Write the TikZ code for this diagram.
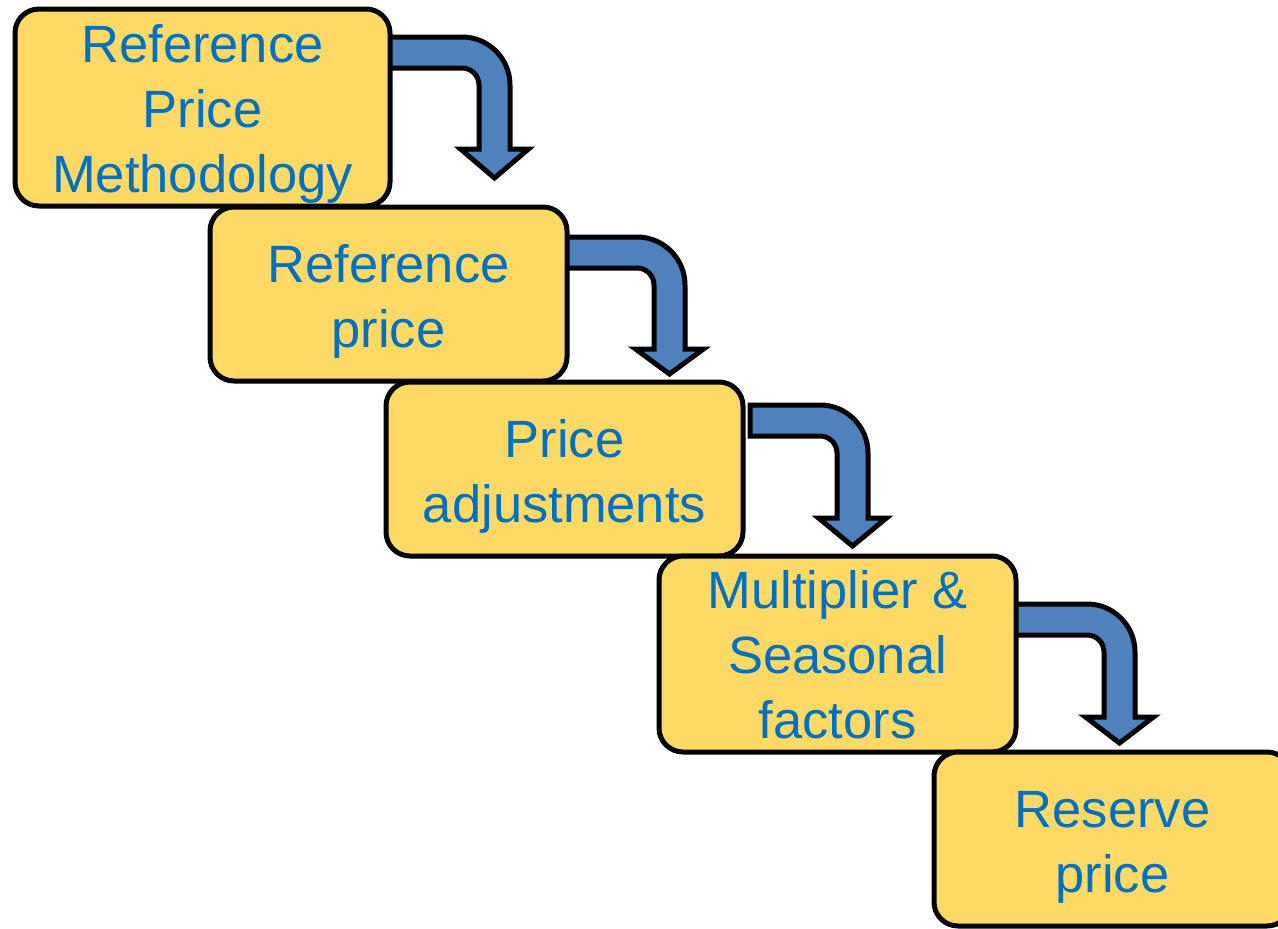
\documentclass[tikz,border=0pt]{standalone}
\usepackage{fontspec}
\setmainfont{Liberation Sans}
\definecolor{boxfill}{RGB}{255,217,102}
\definecolor{arrowblue}{RGB}{79,129,189}
\definecolor{textblue}{RGB}{0,112,192}
\newcommand\bentarrow[6]{%
  % #1 name, #2 x0, #3 top y, #4 right x, #5 head base y, #6 tip y
  \draw[blockarrow] (#2,#3) coordinate (#1-tail)
    -- ({#4-48},#3)
    .. controls ({#4-21.5},#3) and (#4,{#3+21.5}) .. (#4,{#3+48})
    -- (#4,#5) -- ({#4+18.5},#5) -- ({#4-15.5},#6) coordinate (#1-tip)
    -- ({#4-49.5},#5) -- ({#4-31},#5) -- ({#4-31},{#3+48})
    .. controls ({#4-31},{#3+38.6}) and ({#4-38.6},{#3+31}) .. ({#4-48},{#3+31})
    -- (#2,{#3+31}) -- cycle;}
\begin{document}
\begin{tikzpicture}[x=1pt,y=-1pt,
  stagebox/.style={draw=black, line width=5pt, fill=boxfill, rounded corners=24pt,
    minimum width=357pt, minimum height=174pt, inner sep=0pt},
  blockarrow/.style={draw=black, line width=5pt, fill=arrowblue, line join=miter},
  lbl/.style={text=textblue, align=center, inner sep=0pt,
    font=\fontsize{52.5}{65}\selectfont}]
\useasboundingbox (0,0) rectangle (1278,929);
% arrows (behind boxes)
\bentarrow{a1}{380}{37}{510}{149}{178}
\bentarrow{a2}{555}{237}{685}{349}{374}
\bentarrow{a3}{750}{405}{868}{518}{546}
\bentarrow{a4}{1005}{604}{1135}{717}{743}
% boxes
\node[stagebox, minimum width=375pt, minimum height=197pt] (b1) at (202.5,107.5) {};
\node[lbl] (t1) at (202.5,113.5) {\rule{0pt}{40pt}Reference\\Price\\Methodology\rule[-12pt]{0pt}{12pt}};
\node[stagebox] (b2) at (388.5,294) {};
\node[lbl] (t2) at (388.5,300.5) {\rule{0pt}{40pt}Reference\\price\rule[-12pt]{0pt}{12pt}};
\node[stagebox] (b3) at (564.5,469) {};
\node[lbl] (t3) at (564.5,475.5) {\rule{0pt}{40pt}Price\\adjustments\rule[-12pt]{0pt}{12pt}};
\node[stagebox, minimum height=196pt] (b4) at (837.5,654) {};
\node[lbl] (t4) at (837.5,659.5) {\rule{0pt}{40pt}Multiplier \&\\Seasonal\\factors\rule[-12pt]{0pt}{12pt}};
\node[stagebox] (b5) at (1112.5,839) {};
\node[lbl] (t5) at (1112.5,846) {\rule{0pt}{40pt}Reserve\\price\rule[-12pt]{0pt}{12pt}};
\end{tikzpicture}
\end{document}
